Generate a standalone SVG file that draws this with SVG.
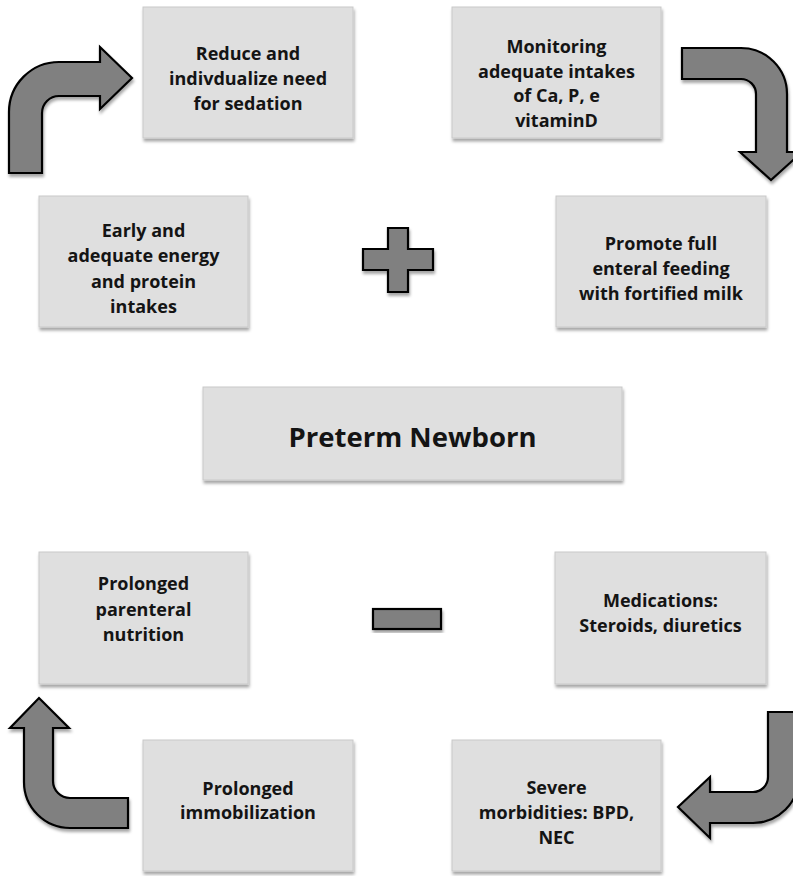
<svg xmlns="http://www.w3.org/2000/svg" width="793" height="876" viewBox="0 0 793 876">
<defs>
<filter id="sh" x="-10%" y="-10%" width="125%" height="130%">
<feDropShadow dx="1" dy="3" stdDeviation="1.6" flood-color="#000" flood-opacity="0.35"/>
</filter>
<style>
.box{fill:#dfdfdf;stroke:#c9c9c9;stroke-width:1;filter:url(#sh)}
.arr{fill:#808080;stroke:#000;stroke-width:2.2;stroke-linejoin:miter;filter:url(#sh)}
.t{font-family:"Open Sans",Lato,"Liberation Sans",sans-serif;font-weight:bold;font-size:18px;fill:#141414;text-anchor:middle}
.big{font-size:27.5px}
</style>
</defs>
<rect width="793" height="876" fill="#fff"/>
<g id="connectors">
<path class="arr" d="M9,173 L9,112 A50,50 0 0 1 59,62 L100,62 L100,47 L132,78 L100,109 L100,96 L59,96 A17,17 0 0 0 42,113 L42,173 Z"/>
<path class="arr" d="M682,48 L741,48 A46,46 0 0 1 787,94 L787,152 L802,152 L771,180 L740,152 L756,152 L756,94 A15,15 0 0 0 741,79 L682,79 Z"/>
<path class="arr" d="M128,828 L70,828 A46,46 0 0 1 24,782 L24,728 L10,728 L39,698 L69,728 L53,728 L53,781 A17,17 0 0 0 70,798 L128,798 Z"/>
<path class="arr" d="M799,712 L799,777 A46,46 0 0 1 753,823 L710,823 L710,838 L678,807 L710,777 L710,792 L753,792 A15,15 0 0 0 768,777 L768,712 Z"/>
</g>
<g id="plus"><path class="arr" d="M388,228 L408,228 L408,249 L433,249 L433,270 L408,270 L408,292 L388,292 L388,270 L363,270 L363,249 L388,249 Z"/></g>
<g id="minus"><rect class="arr" x="373" y="609" width="68" height="20"/></g>
<g id="n-reduce"><rect class="box" x="143" y="7" width="210" height="131"/>
<text class="t" x="248" y="60">Reduce and</text><text class="t" x="248" y="85">indivdualize need</text><text class="t" x="248" y="110">for sedation</text></g>
<g id="n-monitor"><rect class="box" x="452" y="7" width="209" height="131"/>
<text class="t" x="556.5" y="53">Monitoring</text><text class="t" x="556.5" y="77.7">adequate intakes</text><text class="t" x="556.5" y="102.4">of Ca, P, e</text><text class="t" x="556.5" y="127">vitaminD</text></g>
<g id="n-early"><rect class="box" x="39" y="196" width="209" height="131"/>
<text class="t" x="143.5" y="237">Early and</text><text class="t" x="143.5" y="262">adequate energy</text><text class="t" x="143.5" y="287.5">and protein</text><text class="t" x="143.5" y="313">intakes</text></g>
<g id="n-promote"><rect class="box" x="556" y="196" width="210" height="131"/>
<text class="t" x="661" y="250">Promote full</text><text class="t" x="661" y="275">enteral feeding</text><text class="t" x="661" y="300">with fortified milk</text></g>
<g id="n-preterm"><rect class="box" x="203" y="387" width="419" height="93"/>
<text class="t big" x="412.5" y="447">Preterm Newborn</text></g>
<g id="n-parenteral"><rect class="box" x="39" y="552" width="209" height="132"/>
<text class="t" x="143.5" y="590">Prolonged</text><text class="t" x="143.5" y="615.5">parenteral</text><text class="t" x="143.5" y="641">nutrition</text></g>
<g id="n-medications"><rect class="box" x="555" y="552" width="211" height="132"/>
<text class="t" x="660.5" y="607">Medications:</text><text class="t" x="660.5" y="632">Steroids, diuretics</text></g>
<g id="n-immobilization"><rect class="box" x="143" y="740" width="210" height="131"/>
<text class="t" x="248" y="795">Prolonged</text><text class="t" x="248" y="819">immobilization</text></g>
<g id="n-severe"><rect class="box" x="452" y="740" width="209" height="131"/>
<text class="t" x="556.5" y="794">Severe</text><text class="t" x="556.5" y="819">morbidities: BPD,</text><text class="t" x="556.5" y="844">NEC</text></g>
</svg>
